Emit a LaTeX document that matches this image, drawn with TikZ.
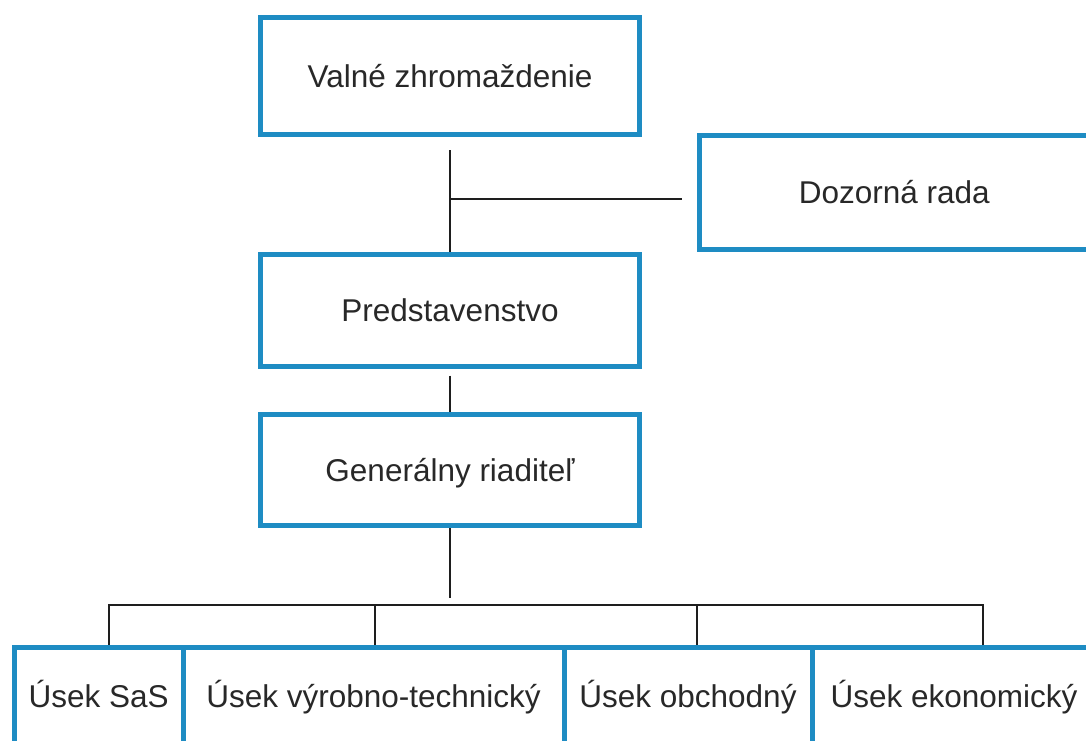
\documentclass[tikz,border=0pt]{standalone}
\usepackage{fontspec}
\setmainfont{Liberation Sans}
\usetikzlibrary{calc}
\definecolor{boxblue}{RGB}{30,140,195}
\definecolor{ink}{RGB}{30,30,30}
\definecolor{txt}{RGB}{40,40,40}
\tikzset{
  orgbox/.style={draw=boxblue, line width=5pt, fill=white, inner sep=0pt,
    text=txt, font=\fontsize{31.5}{36}\selectfont, rectangle,
    text height=28pt, text depth=6pt},
  conn/.style={draw=ink, line width=2.8pt},
  busline/.style={draw=ink, line width=1.8pt}
}
\begin{document}
\begin{tikzpicture}[x=1pt,y=-1pt]
\useasboundingbox (0,0) rectangle (1086,740);
\clip (0,0) rectangle (1086,740);
\fill[white] (0,0) rectangle (1086,740);
% main column
\node[orgbox, minimum width=379pt, minimum height=117pt] (vz) at (450,76) {Valné zhromaždenie};
\node[orgbox, minimum width=379pt, minimum height=112pt] (pred) at (450,310) {Predstavenstvo};
\node[orgbox, minimum width=379pt, minimum height=111pt] (gen) at (450,470) {Generálny riaditeľ};
\node[orgbox, minimum width=389.5pt, minimum height=114pt] (doz) at (894.25,192.5) {Dozorná rada};
% bottom row
\node[orgbox, minimum width=168.5pt, minimum height=98pt] (sas) at (98.75,696) {Úsek SaS};
\node[orgbox, minimum width=381pt, minimum height=98pt] (vyr) at (373.5,696) {Úsek výrobno-technický};
\node[orgbox, minimum width=248pt, minimum height=98pt] (obch) at (688,696) {Úsek obchodný};
\node[orgbox, minimum width=284pt, minimum height=98pt] (eko) at (954,696) {Úsek ekonomický};
% connectors
\coordinate (j1) at (450,199);
\draw[conn] ([yshift=-13pt]vz.south) -- (pred.north);
\draw[conn] (j1) -- ($(j1 -| doz.west)+(-15,0)$);
\draw[conn] ([yshift=-7pt]pred.south) -- (gen.north);
\coordinate (busend) at (450,598);
\draw[conn] (gen.south) -- (busend);
\coordinate (t1) at (109,605);
\coordinate (t2) at (375,605);
\coordinate (t3) at (697,605);
\coordinate (t4) at (983,605);
\draw[busline] (t1 |- sas.north) -- (t1) -- (t4) -- (t4 |- eko.north);
\draw[busline] (t2) -- (t2 |- vyr.north);
\draw[busline] (t3) -- (t3 |- obch.north);
\end{tikzpicture}
\end{document}
